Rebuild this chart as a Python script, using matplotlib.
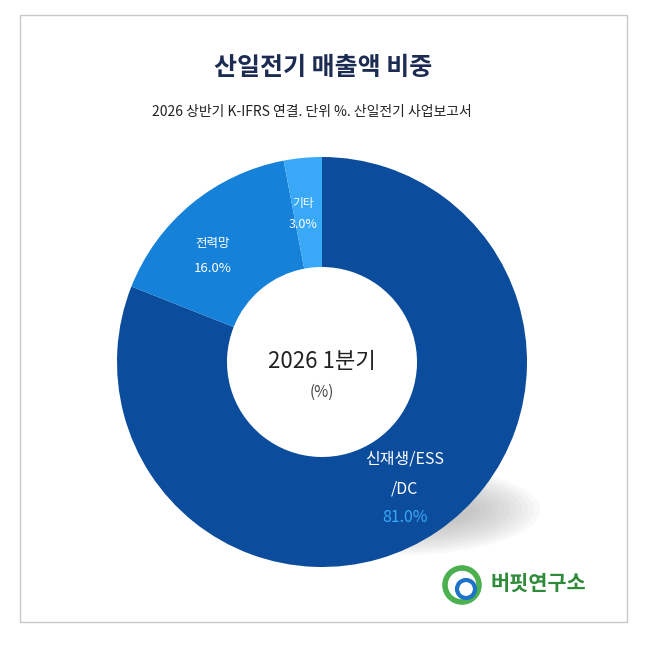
import matplotlib.pyplot as plt
from matplotlib.patches import Ellipse, Rectangle, Circle

plt.rcParams['font.family'] = ['Noto Sans CJK KR', 'DejaVu Sans']

labels = ['신재생/ESS\n/DC', '전력망', '기타']
values = [81.0, 16.0, 3.0]
colors = ['#0b4c9c', '#1581d9', '#39a9f7']

fig = plt.figure(figsize=(6.47, 6.47), dpi=100)
ax = fig.add_axes([0, 0, 1, 1])
ax.set_xlim(0, 647)
ax.set_ylim(0, 647)
ax.set_aspect('equal')
ax.axis('off')

H = 647
ax.add_patch(Rectangle((20, H - 622), 607, 607, fill=False, ec='#c8c8c8', lw=1))

# soft shadow
for i in range(12):
    ax.add_patch(Ellipse((400, H - 510), 280 - i * 12, 90 - i * 5, color='#9a9a9a',
                         alpha=0.06, lw=0, zorder=0))

cx, cy, R = 322, H - 362, 205
ax.pie(values, colors=colors, startangle=90, counterclock=False,
       center=(cx, cy), radius=R, wedgeprops=dict(width=R - 95, lw=0))
ax.set_xlim(0, 647)
ax.set_ylim(0, 647)

ax.text(323, H - 68, '산일전기 매출액 비중', ha='center', va='center', fontsize=18,
        fontweight='bold', color='#1b2b52')
ax.text(312, H - 112, '2026 상반기 K-IFRS 연결. 단위 %. 산일전기 사업보고서', ha='center',
        va='center', fontsize=10, color='#222222')

ax.text(322, H - 362, '2026 1분기', ha='center', va='center', fontsize=16, color='#222222')
ax.text(322, H - 392, '(%)', ha='center', va='center', fontsize=11, color='#444444')

ax.text(405, H - 459, '신재생/ESS', ha='center', va='center', fontsize=11.5, color='white')
ax.text(405, H - 489, '/DC', ha='center', va='center', fontsize=11.5, color='white')
ax.text(405, H - 518, f'{values[0]:.1f}%', ha='center', va='center', fontsize=11.5, color='#39a9f7')

ax.text(213, H - 244, '전력망', ha='center', va='center', fontsize=9, color='white')
ax.text(213, H - 268, f'{values[1]:.1f}%', ha='center', va='center', fontsize=9.5, color='white')
ax.text(303, H - 203, '기타', ha='center', va='center', fontsize=8.5, color='white')
ax.text(303, H - 224, f'{values[2]:.1f}%', ha='center', va='center', fontsize=9, color='white')

# logo
ax.add_patch(Circle((462, H - 585), 17, fill=False, ec='#4caf50', lw=4))
ax.add_patch(Circle((466, H - 589), 9, fill=False, ec='#1e73c8', lw=3))
ax.text(538, H - 583, '버핏연구소', ha='center', va='center', fontsize=15,
        fontweight='bold', color='#2e8b3a')

fig.savefig('out.png', dpi=100)
